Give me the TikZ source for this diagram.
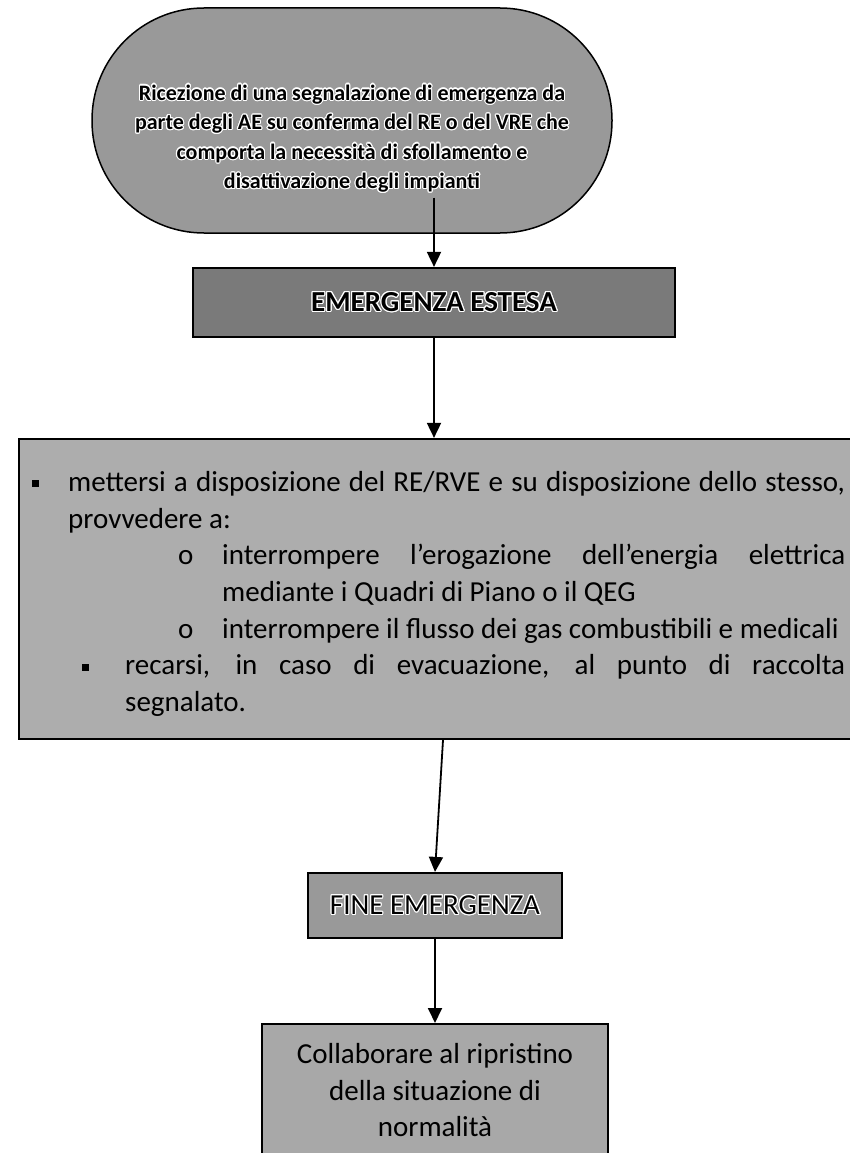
\documentclass[tikz,border=0pt]{standalone}
\usepackage{fontspec}
\setmainfont{Carlito}
\usepackage{contour}
\contourlength{1.1pt}
\usetikzlibrary{arrows.meta}

\newcommand{\sqbullet}{\raisebox{4pt}{\rule{7pt}{7pt}}}

\begin{document}
\begin{tikzpicture}[x=1pt, y=-1pt,
	box/.style={draw, line width=2.2pt, fill=black!38, inner sep=0pt, align=center, font=\fontsize{29}{36.5}\selectfont},
	arr/.style={-{Triangle[length=15pt, width=14pt]}, line width=1.8pt}]
	\useasboundingbox (0, 0) rectangle (849, 1153);

	% start
	\node [box, line width=1.5pt, fill=black!40, rounded corners=112pt, minimum width=520pt, minimum height=225pt] (ricezione) at (352, 120.5) {};
	\node [align=center, inner sep=4pt, font=\bfseries\fontsize{22}{29.5}\selectfont] (rictext) at (352, 139) {
		\contour{white}{Ricezione di una segnalazione di emergenza da}\\
		\contour{white}{parte degli AE su conferma del RE o del VRE che}\\
		\contour{white}{comporta la necessità di sfollamento e}\\
		\contour{white}{disattivazione degli impianti}};

	\node [box, fill=black!52, minimum width=482pt, minimum height=69pt] (estesa) at (434, 302.5) {\bfseries\contour{white}{EMERGENZA ESTESA}};

	% azioni
	\node [box, fill=black!32, minimum width=832pt, minimum height=300pt] (azioni) at (435, 589) {};
	\node [anchor=north west, inner sep=0pt, text width=817pt, align=justify, font=\fontsize{29}{36.7}\selectfont] (azionitext) at (28, 471) {
		{\leftskip=40pt \noindent\hskip-36pt\makebox[36pt][l]{\sqbullet}mettersi a disposizione del RE/RVE e su disposizione dello stesso,\linebreak provvedere a:\par}
		{\leftskip=194pt \noindent\hskip-44pt\makebox[44pt][l]{o}interrompere l'erogazione dell'energia elettrica\linebreak mediante i Quadri di Piano o il QEG\par}
		{\leftskip=194pt \noindent\hskip-44pt\makebox[44pt][l]{o}interrompere il flusso dei gas combustibili e medicali\par}
		{\leftskip=97pt \noindent\hskip-43pt\makebox[43pt][l]{\sqbullet}recarsi, in caso di evacuazione, al punto di raccolta\linebreak segnalato.\par}};

	\node [box, fill=black!40, minimum width=254pt, minimum height=65pt] (fine) at (435, 905.5) {\contour{white}{FINE EMERGENZA}};

	\node [box, fill=black!34, anchor=north, minimum width=346pt, minimum height=132pt] (ripristino) at (435, 1023) {Collaborare al ripristino\\della situazione di\\normalità};

	\draw [arr] (rictext.south -| estesa.north) -- (estesa.north);
	\draw [arr] (estesa.south) -- (estesa.south |- azioni.north);
	\draw [arr] ([xshift=8pt]azioni.south) -- (fine.north);
	\draw [arr] (fine.south) -- (ripristino.north);
\end{tikzpicture}
\end{document}
